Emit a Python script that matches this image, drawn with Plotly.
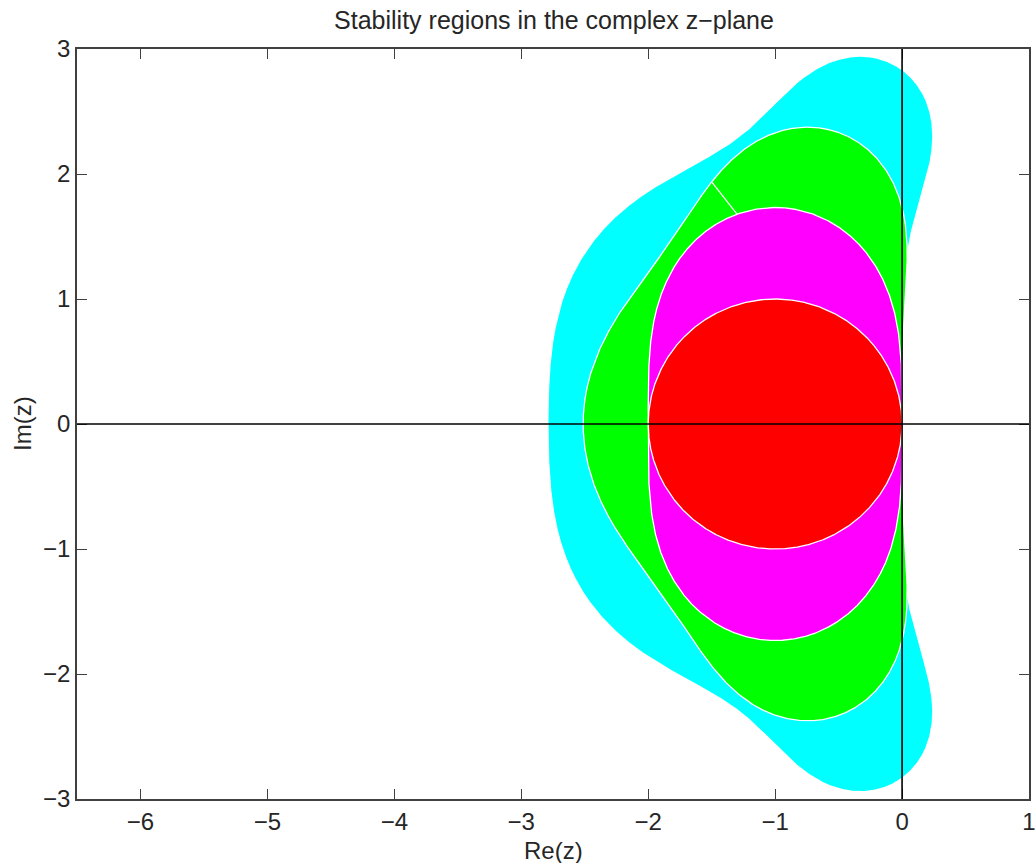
import numpy as np
import plotly.graph_objects as go
from math import factorial
from itertools import permutations

# Explicit Runge-Kutta methods of order p, drawn from highest order (back) to lowest (front)
ORDERS = [4, 3, 2, 1]
FILL_COLORS = ["#00ffff", "#00ff00", "#ff00ff", "#ff0000"]
EDGE_COLORS = ["#00ffff", "#ffffff", "#ffffff", "#ffffff"]

X_RANGE = [-6.5, 1]
Y_RANGE = [-3, 3]
X_TICKS = [-6, -5, -4, -3, -2, -1, 0, 1]
Y_TICKS = [-3, -2, -1, 0, 1, 2, 3]

TITLE = "Stability regions in the complex z\u2212plane"
X_LABEL = "Re(z)"
Y_LABEL = "Im(z)"

FONT = "Liberation Sans, Arial, Helvetica, sans-serif"


def stability_poly(p):
    """Coefficients (highest power first) of R_p(z) = sum_{k<=p} z^k / k!."""
    return np.array([1.0 / factorial(k) for k in range(p, -1, -1)], dtype=complex)


def boundary_loops(p, n=2400):
    """Boundary locus |R_p(z)| = 1 : roots of R_p(z) = exp(i*theta), tracked in theta."""
    coeffs = stability_poly(p)
    theta = np.linspace(0.0, 2.0 * np.pi, n)
    perms = [list(q) for q in permutations(range(p))]
    rows = []
    prev = None
    for t in theta:
        c = coeffs.copy()
        c[-1] = 1.0 - np.exp(1j * t)
        r = np.roots(c)
        if len(r) < p:
            r = np.concatenate([r, np.zeros(p - len(r))])
        if prev is not None and p > 1:
            best = min(perms, key=lambda q: np.abs(r[q] - prev).sum())
            r = r[best]
        rows.append(r)
        prev = r
    Z = np.array(rows)

    # chain the root branches end-to-start into closed curves
    unused = list(range(p))
    loops = []
    while unused:
        k = min(unused, key=lambda j: abs(Z[0, j]))
        unused.remove(k)
        path = [Z[:, k]]
        start = Z[0, k]
        end = Z[-1, k]
        while abs(end - start) > 1e-6 and unused:
            j = min(unused, key=lambda m: abs(Z[0, m] - end))
            unused.remove(j)
            path.append(Z[1:, j])
            end = Z[-1, j]
        loops.append(np.concatenate(path))
    return loops


fig = go.Figure()

for p, fc, ec in zip(ORDERS, FILL_COLORS, EDGE_COLORS):
    for loop in boundary_loops(p):
        loop = np.append(loop, loop[0])
        fig.add_trace(go.Scatter(
            x=loop.real, y=loop.imag, mode="lines", fill="toself",
            fillcolor=fc, line=dict(color=ec, width=1.3 if ec == "#ffffff" else 0),
            hoverinfo="skip", showlegend=False,
        ))
    if p == 3:
        # edge joining the origin to the upper root of R_3(z) = 1
        c = stability_poly(3)
        c[-1] -= 1.0
        r = np.roots(c)
        top = r[np.argmax(r.imag)]
        fig.add_trace(go.Scatter(
            x=[top.real, 0.0], y=[top.imag, 0.0], mode="lines",
            line=dict(color="#ffffff", width=1.3),
            hoverinfo="skip", showlegend=False,
        ))

axis_common = dict(
    showgrid=False, zeroline=False, showline=True, mirror="ticks",
    linecolor="#404040", linewidth=1.6, ticks="inside", ticklen=10,
    tickwidth=1.3, tickcolor="#404040", automargin=False,
    ticklabeloverflow="allow",
    tickfont=dict(family=FONT, size=24, color="#262626"),
)

fig.update_layout(
    width=1035, height=863,
    margin=dict(l=77, r=6, t=49, b=64, autoexpand=False),
    paper_bgcolor="white", plot_bgcolor="white",
    font=dict(family=FONT, color="#262626"),
    title=dict(text=TITLE, x=554 / 1035, xanchor="center", y=1 - 20 / 863, yanchor="middle",
               font=dict(family=FONT, size=25, color="#262626")),
    xaxis=dict(range=X_RANGE, tickvals=X_TICKS, **axis_common),
    yaxis=dict(range=Y_RANGE, tickvals=Y_TICKS, **axis_common),
    shapes=[
        dict(type="line", xref="paper", yref="y", x0=0, x1=1, y0=0, y1=0,
             line=dict(color="black", width=1.6), layer="above"),
        dict(type="line", xref="x", yref="paper", x0=0, x1=0, y0=0, y1=1,
             line=dict(color="black", width=1.6), layer="above"),
    ],
    annotations=[
        dict(text=X_LABEL, xref="paper", yref="paper", x=0.5, y=-51 / 750,
             xanchor="center", yanchor="middle", showarrow=False,
             font=dict(family=FONT, size=24, color="#262626")),
        dict(text=Y_LABEL, xref="paper", yref="paper", x=-55 / 952, y=0.5,
             xanchor="center", yanchor="middle", showarrow=False, textangle=-90,
             font=dict(family=FONT, size=24, color="#262626")),
    ],
)

fig.write_html("out.html")
